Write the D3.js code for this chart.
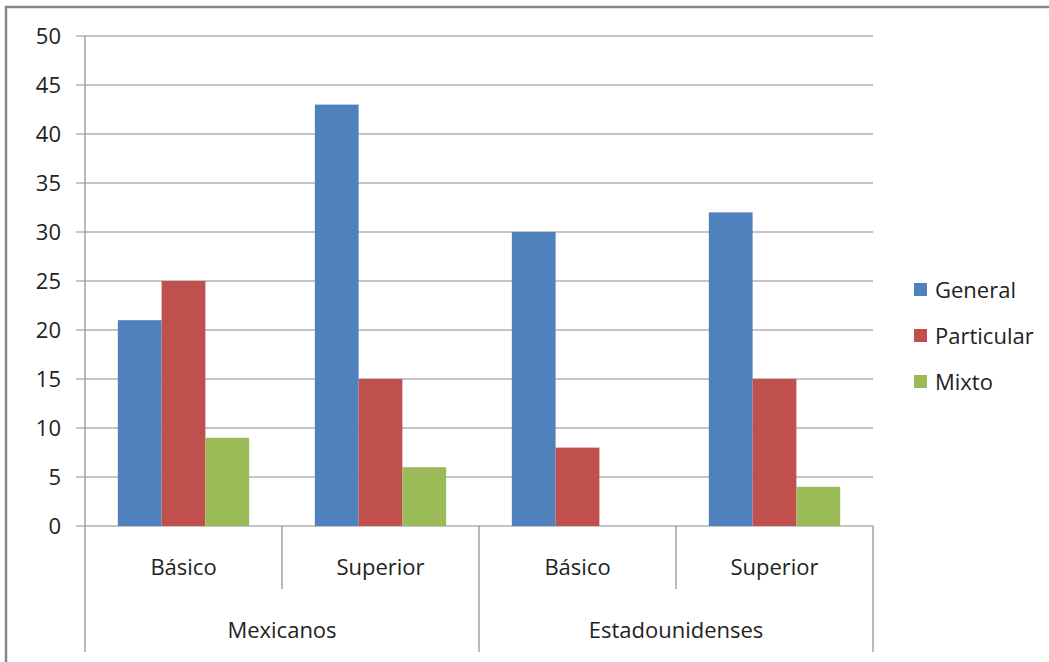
<!DOCTYPE html>
<html>
<head>
<meta charset="utf-8">
<script src="https://cdn.jsdelivr.net/npm/d3@7"></script>
<style>
  body { margin: 0; background: #fff; }
  text { font-family: "Open Sans", Lato, sans-serif; fill: #222; }
</style>
</head>
<body>
<div id="chart"></div>
<script>
// data
const groups = ["Mexicanos", "Estadounidenses"];
const levels = ["Básico", "Superior"];
const series = ["General", "Particular", "Mixto"];
const general = [21, 43, 30, 32];
const particular = [25, 15, 8, 15];
const mixto = [9, 6, 0, 4];
const yTicks = [0, 5, 10, 15, 20, 25, 30, 35, 40, 45, 50];
const colors = ["#4F81BD", "#C0504D", "#9BBB59"];

const W = 1049, H = 662;
const m = {top: 36, left: 85, right: 176, bottom: 136};
const fs = 22;

const svg = d3.select("#chart").append("svg")
  .attr("width", W).attr("height", H);

// outer frame (runs off the right and bottom edges)
svg.append("rect")
  .attr("x", 6).attr("y", 7)
  .attr("width", W + 20).attr("height", H + 20)
  .attr("fill", "none").attr("stroke", "#868686").attr("stroke-width", 2.5);

const cats = [];
groups.forEach(g => levels.forEach(l => cats.push(g + "|" + l)));
const vals = [general, particular, mixto];

const x = d3.scaleBand().domain(cats).range([m.left, W - m.right]);
const x1 = d3.scaleBand().domain(series).range([0, x.bandwidth()])
  .paddingInner(0).paddingOuter(0.75);
const y = d3.scaleLinear().domain([0, 50]).range([H - m.bottom, m.top]);

// gridlines with small ticks to the left
svg.append("g").selectAll("line").data(yTicks).join("line")
  .attr("x1", m.left - 9).attr("x2", W - m.right)
  .attr("y1", d => y(d)).attr("y2", d => y(d))
  .attr("stroke", "#8c8c8c").attr("stroke-width", 1.2);

svg.append("g").selectAll("text").data(yTicks).join("text")
  .attr("x", 61).attr("y", d => y(d) + 7.5)
  .attr("text-anchor", "end").attr("font-size", fs)
  .text(d => d);

// bars
const g = svg.append("g");
cats.forEach((c, i) => {
  series.forEach((s, j) => {
    const v = vals[j][i];
    if (v <= 0) return;
    g.append("rect")
      .attr("x", x(c) + x1(s))
      .attr("y", y(v))
      .attr("width", x1.bandwidth())
      .attr("height", y(0) - y(v))
      .attr("fill", colors[j]);
  });
});

// y axis line
svg.append("line")
  .attr("x1", m.left).attr("x2", m.left)
  .attr("y1", y(50)).attr("y2", y(0))
  .attr("stroke", "#8c8c8c").attr("stroke-width", 1.2);

// category dividers
const dividers = d3.range(cats.length + 1);
svg.append("g").selectAll("line").data(dividers).join("line")
  .attr("x1", i => m.left + i * x.step())
  .attr("x2", i => m.left + i * x.step())
  .attr("y1", y(0))
  .attr("y2", i => i % 2 === 0 ? 652 : 589)
  .attr("stroke", "#8c8c8c").attr("stroke-width", 1.2);

// level labels
svg.append("g").selectAll("text").data(cats).join("text")
  .attr("x", c => x(c) + x.bandwidth() / 2)
  .attr("y", 575)
  .attr("text-anchor", "middle").attr("font-size", fs)
  .text(c => c.split("|")[1]);

// group labels
svg.append("g").selectAll("text").data(groups).join("text")
  .attr("x", (d, i) => m.left + (i * 2 + 1) * x.step())
  .attr("y", 638)
  .attr("text-anchor", "middle").attr("font-size", fs)
  .text(d => d);

// legend
const leg = svg.append("g").attr("transform", "translate(914, 283)");
series.forEach((s, i) => {
  leg.append("rect")
    .attr("x", 0).attr("y", i * 46)
    .attr("width", 13).attr("height", 13)
    .attr("fill", colors[i]);
  leg.append("text")
    .attr("x", 21).attr("y", i * 46 + 14.5)
    .attr("font-size", fs)
    .text(s);
});
</script>
</body>
</html>
